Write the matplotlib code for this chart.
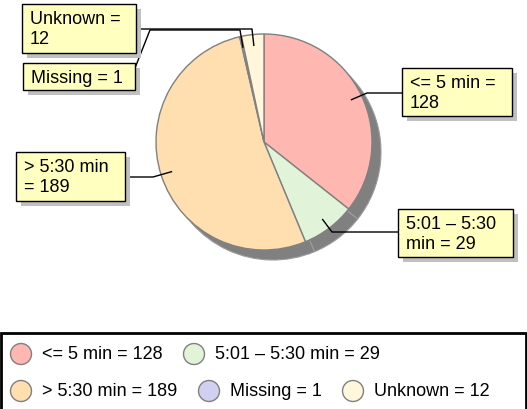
import numpy as np
import matplotlib.pyplot as plt
from matplotlib.patches import Rectangle, Circle

plt.rcParams['font.family'] = ['Liberation Sans', 'DejaVu Sans']

# Data
categories = ['<= 5 min', '5:01 – 5:30 min', '> 5:30 min', 'Missing', 'Unknown']
counts = [128, 29, 189, 1, 12]
colors = ['#ffb7b1', '#e1f4d9', '#ffdeb0', '#d2d0f2', '#fff6dc']
box_texts = ['<= 5 min =\n128', '5:01 – 5:30\nmin = 29', '> 5:30 min\n= 189',
             'Missing = 1', 'Unknown =\n12']

W, H = 527, 410
fig = plt.figure(figsize=(W / 100, H / 100), dpi=100)
ax = fig.add_axes([0, 0, 1, 1])

cx, cy, r = 264, H - 143, 108

# pie shadow, then the pie itself
ax.pie(counts, colors=['#808080'] * len(counts), startangle=90, counterclock=False,
       radius=r, center=(cx + 9, cy - 10),
       wedgeprops=dict(edgecolor='#9c9c9c', linewidth=0.8))
wedges, _ = ax.pie(counts, colors=colors, startangle=90, counterclock=False,
                   radius=r, center=(cx, cy),
                   wedgeprops=dict(edgecolor='#808080', linewidth=1))

# label boxes (pixel coords from top-left) and leader lines
boxes = [(402, 69, 512, 117), (398, 210, 513, 258), (16, 153, 125, 202),
         (23, 64, 135, 91), (22, 5, 136, 54)]
paths = [[(402, 94), (367, 94)], [(398, 233), (332, 233)], [(125, 178), (153, 178)],
         [(135, 69), (150, 31), (240, 31)], [(136, 30), (252, 30)]]

for w, (x0, y0, x1, y1), txt, path in zip(wedges, boxes, box_texts, paths):
    mid = np.deg2rad((w.theta1 + w.theta2) / 2)
    ax_pt = (cx + 0.9 * r * np.cos(mid), cy + 0.9 * r * np.sin(mid))
    xs = [p[0] for p in path] + [ax_pt[0]]
    ys = [H - p[1] for p in path] + [ax_pt[1]]
    ax.plot(xs, ys, color='black', lw=1, zorder=3)
    ax.add_patch(Rectangle((x0 + 5, H - y1 - 5), x1 - x0, y1 - y0,
                           facecolor='#c0c0c0', edgecolor='none', zorder=4))
    ax.add_patch(Rectangle((x0, H - y1), x1 - x0, y1 - y0,
                           facecolor='#ffffc0', edgecolor='black', lw=1, zorder=5))
    ax.text(x0 + 8, H - y0 - 6, txt, fontsize=13, va='top', ha='left',
            linespacing=1.25, zorder=6)

# legend
ax.add_patch(Rectangle((1, -5), W - 2, H - 334 + 5, facecolor='none',
                       edgecolor='black', lw=2, zorder=5))
leg_pos = [(21, 355), (194, 355), (21, 392), (209, 392), (353, 392)]
for cat, n, c, (lx, ly) in zip(categories, counts, colors, leg_pos):
    ax.add_patch(Circle((lx, H - ly), 10.5, facecolor=c, edgecolor='#808080', lw=1, zorder=6))
    ax.text(lx + 21, H - ly, f'{cat} = {n}', fontsize=13, va='center', ha='left', zorder=6)

ax.set_xlim(0, W)
ax.set_ylim(0, H)
ax.set_aspect('equal')
ax.axis('off')

fig.savefig('out.png', dpi=100)
